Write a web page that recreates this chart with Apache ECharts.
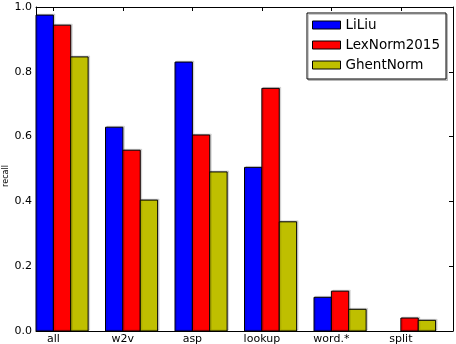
<!DOCTYPE html>
<html>
<head>
<meta charset="utf-8">
<script src="https://cdn.jsdelivr.net/npm/echarts@6/dist/echarts.min.js"></script>
<style>html,body{margin:0;padding:0;background:#fff;}#c{width:456px;height:344px;}</style>
</head>
<body>
<div id="c"></div>
<script>
const categories = ['all', 'w2v', 'asp', 'lookup', 'word.*', 'split'];
const seriesNames = ['LiLiu', 'LexNorm2015', 'GhentNorm'];
const liliu = [0.975, 0.629, 0.830, 0.505, 0.104, 0.0];
const lexnorm = [0.944, 0.558, 0.605, 0.749, 0.123, 0.040];
const ghentnorm = [0.846, 0.404, 0.491, 0.337, 0.067, 0.033];
const yTicks = [0.0, 0.2, 0.4, 0.6, 0.8, 1.0];
const yAxisTitle = 'recall';
const colors = ['#0000ff', '#ff0000', '#bfbf00'];

const allValues = [liliu, lexnorm, ghentnorm];
const barWidth = 0.25;
const quarterSlots = [];
for (let i = 0; i <= categories.length * 4; i++) quarterSlots.push(String(i));
const isLabelSlot = (idx) => idx % 4 === 1;

const chart = echarts.init(document.getElementById('c'), null, {renderer: 'canvas'});

function makeSeries(k) {
  return {
    type: 'custom',
    name: seriesNames[k],
    xAxisIndex: 0,
    yAxisIndex: 0,
    itemStyle: {color: colors[k]},
    data: allValues[k].map((v, i) => [i, v]),
    renderItem: function (params, api) {
      const ci = api.value(0);
      const v = api.value(1);
      if (!v) return null;
      const x0 = ci + k * barWidth;
      const p0 = api.coord([x0, v]);
      const p1 = api.coord([x0 + barWidth, 0]);
      return {
        type: 'rect',
        shape: {x: p0[0], y: p0[1], width: p1[0] - p0[0], height: p1[1] - p0[1]},
        style: {
          fill: colors[k], stroke: '#000', lineWidth: 1,
          shadowColor: 'rgba(0,0,0,0.12)', shadowOffsetX: 1.5, shadowOffsetY: -1, shadowBlur: 0
        }
      };
    }
  };
}

const tickStyle = {show: true, inside: true, length: 4, lineStyle: {color: '#000', width: 1}};

chart.setOption({
  animation: false,
  backgroundColor: '#fff',
  grid: {left: 36, right: 3, top: 7, bottom: 13, containLabel: false, outerBoundsMode: 'none'},
  graphic: [{
    type: 'text', x: 6, y: 176, rotation: Math.PI / 2,
    style: {text: yAxisTitle, fontFamily: 'DejaVu Sans', fontSize: 8, fill: '#000', align: 'center', verticalAlign: 'middle'}
  }],
  legend: {
    orient: 'vertical',
    left: 307, top: 13,
    padding: [5, 6, 7, 5],
    itemWidth: 28, itemHeight: 8, itemGap: 6,
    backgroundColor: '#fff',
    borderColor: '#000', borderWidth: 1, borderRadius: 0,
    shadowColor: 'rgba(0,0,0,0.2)', shadowOffsetX: 1.5, shadowOffsetY: 1.5, shadowBlur: 0,
    textStyle: {fontFamily: 'DejaVu Sans', fontSize: 13.5, color: '#000'},
    data: seriesNames.map((n, k) => ({name: n, icon: 'rect', itemStyle: {color: colors[k], borderColor: '#000', borderWidth: 1}}))
  },
  xAxis: [
    {type: 'value', min: 0, max: categories.length, show: false, gridIndex: 0},
    {
      type: 'category', data: quarterSlots, boundaryGap: false, position: 'bottom', gridIndex: 0,
      axisLine: {show: true, lineStyle: {color: '#000', width: 1}},
      axisTick: Object.assign({}, tickStyle, {interval: (i) => isLabelSlot(i)}),
      axisLabel: {
        interval: (i) => isLabelSlot(i),
        formatter: (v, i) => isLabelSlot(i) ? categories[(i - 1) / 4] : '',
        fontFamily: 'DejaVu Sans', fontSize: 11, color: '#000', margin: 3
      },
      splitLine: {show: false}
    },
    {
      type: 'category', data: quarterSlots, boundaryGap: false, position: 'top', gridIndex: 0,
      axisLine: {show: true, lineStyle: {color: '#000', width: 1}},
      axisTick: Object.assign({}, tickStyle, {interval: (i) => isLabelSlot(i)}),
      axisLabel: {show: false},
      splitLine: {show: false}
    }
  ],
  yAxis: [
    {
      type: 'value', min: yTicks[0], max: yTicks[yTicks.length - 1], interval: 0.2, position: 'left',
      axisLine: {show: true, lineStyle: {color: '#000', width: 1}},
      axisTick: tickStyle,
      axisLabel: {formatter: (v) => v.toFixed(1), fontFamily: 'DejaVu Sans', fontSize: 11, color: '#000', margin: 4},
      splitLine: {show: false}
    },
    {
      type: 'value', min: yTicks[0], max: yTicks[yTicks.length - 1], interval: 0.2, position: 'right',
      axisLine: {show: true, lineStyle: {color: '#000', width: 1}},
      axisTick: tickStyle,
      axisLabel: {show: false},
      splitLine: {show: false}
    }
  ],
  series: [makeSeries(0), makeSeries(1), makeSeries(2)]
});
</script>
</body>
</html>
